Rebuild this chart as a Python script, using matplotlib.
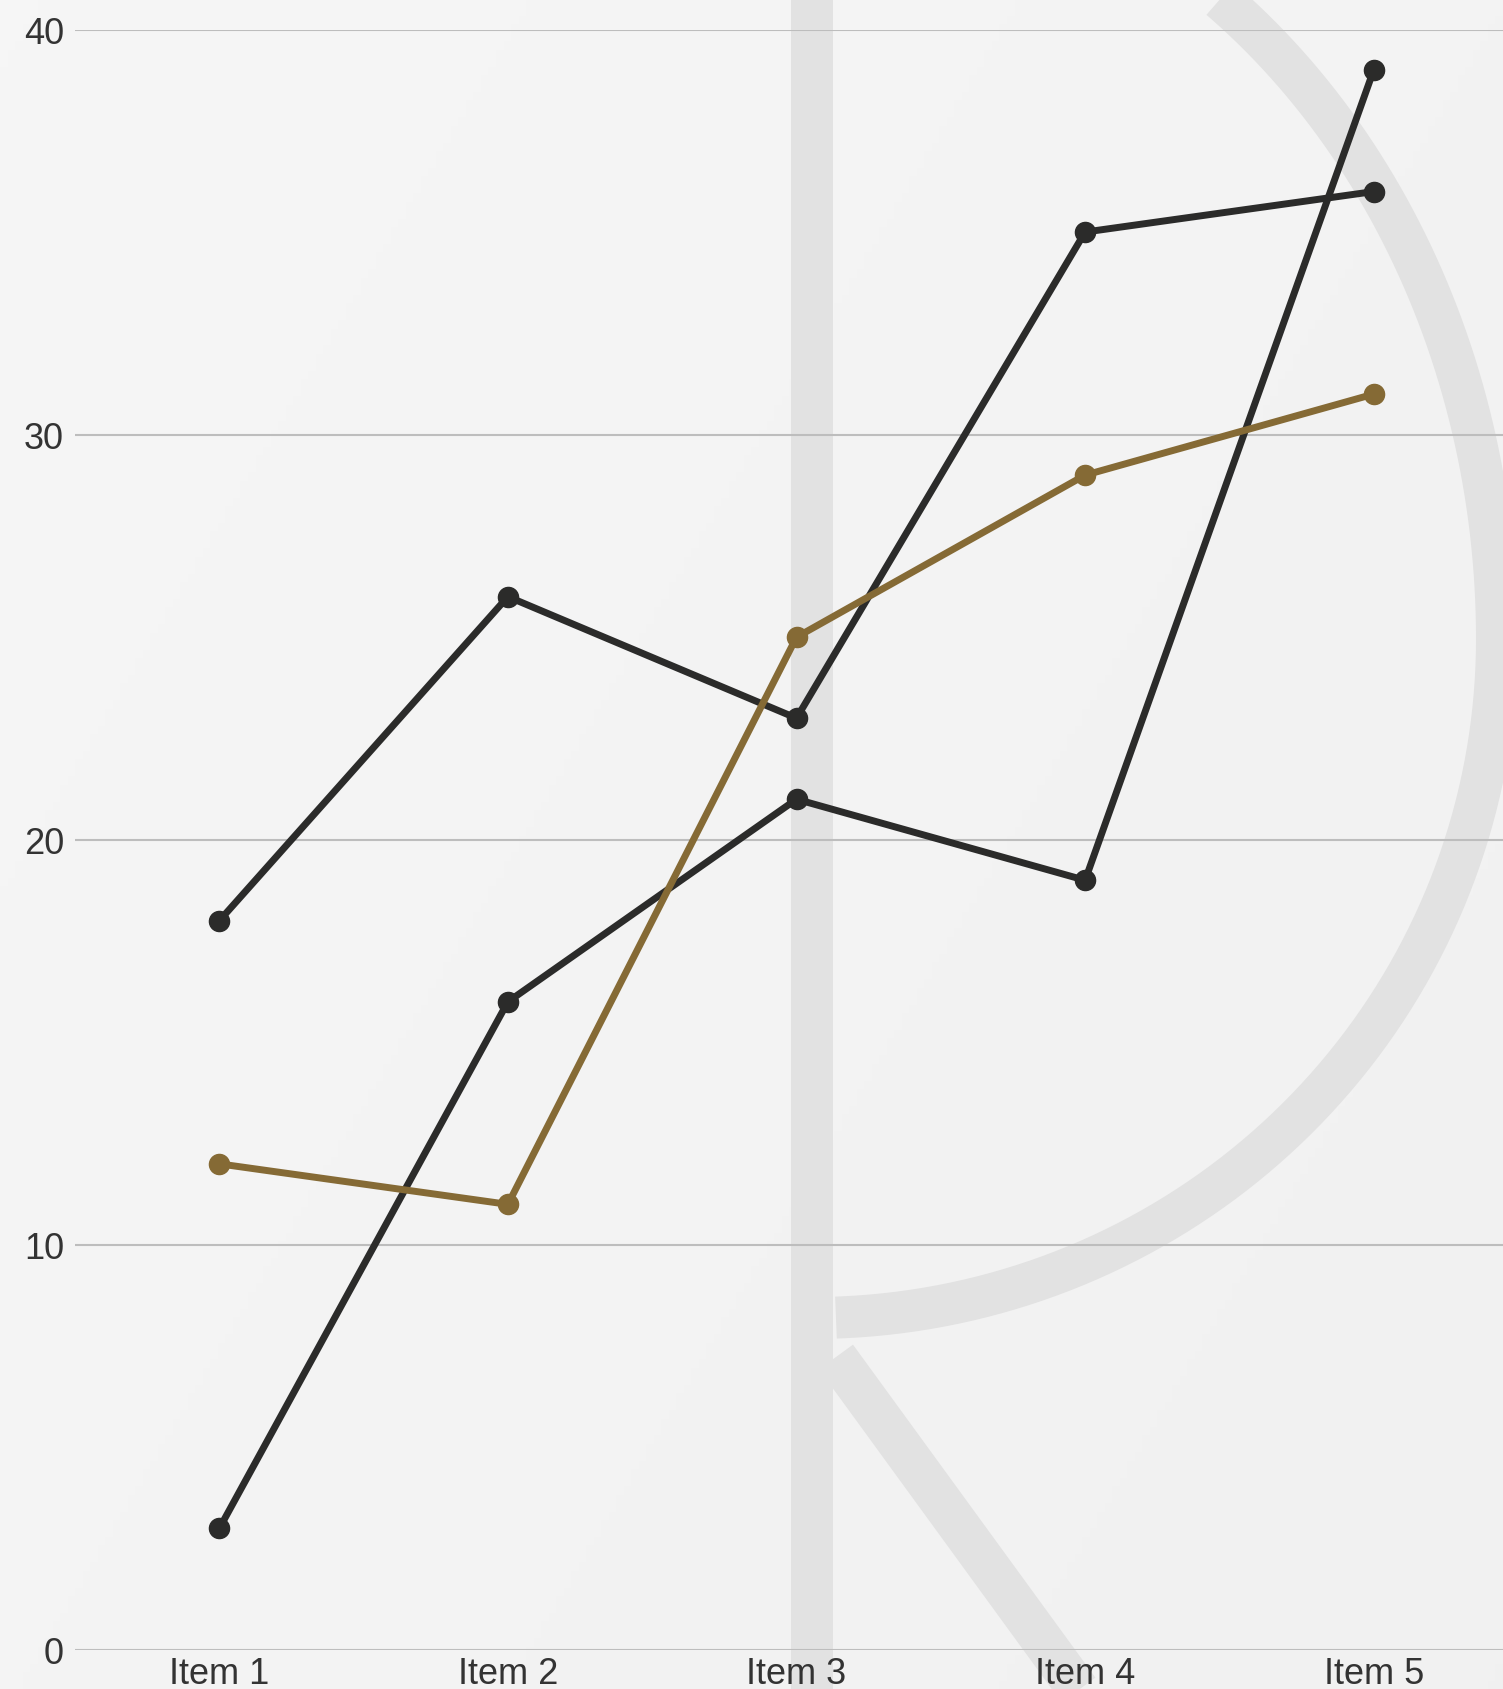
import numpy as np
import matplotlib
matplotlib.use('Agg')
import matplotlib.pyplot as plt

# chart data
categories = ['Item 1', 'Item 2', 'Item 3', 'Item 4', 'Item 5']
series_a = [18, 26, 23, 35, 36]
series_b = [3, 16, 21, 19, 39]
series_c = [12, 11, 25, 29, 31]
y_ticks = [0, 10, 20, 30, 40]

W, H = 1503, 1690
fig = plt.figure(figsize=(W / 100, H / 100), dpi=100)

# background with a soft gradient and the faint "R" watermark
bg = fig.add_axes([0, 0, 1, 1], zorder=0)
bg.set_xlim(0, W)
bg.set_ylim(H, 0)
bg.axis('off')
gx = np.linspace(0, 1, 200)
gy = np.linspace(0, 1, 200)
grad = 0.965 - 0.02 * (0.6 * gx[None, :] + 0.4 * gy[:, None])
bg.imshow(np.dstack([grad] * 3), extent=[0, W, H, 0], aspect='auto')

wm = '#e2e2e2'
wm_lw = 42 * 0.72
bg.plot([812, 812], [0, H], color=wm, lw=wm_lw, solid_capstyle='butt')
# bowl of the R: upper and lower quarter ellipses
cx, cy, rx = 812, 640, 685
t_up = np.linspace(-1.25, 0, 150)
t_lo = np.linspace(0, np.pi / 2 - 0.035, 150)
bowl_x = np.concatenate([cx + rx * np.cos(t_up), cx + rx * np.cos(t_lo)])
bowl_y = np.concatenate([cy + 797 * np.sin(t_up), cy + 679 * np.sin(t_lo)])
bg.plot(bowl_x, bowl_y, color=wm, lw=wm_lw, solid_capstyle='butt')
bg.plot([836, 1085], [1358, 1700], color=wm, lw=wm_lw, solid_capstyle='butt')

ax = fig.add_axes([75 / W, (H - 1651) / H, (1518 - 75) / W, (1651 - 30.5) / H],
                  zorder=1)
ax.patch.set_alpha(0)
x = np.arange(len(categories))

dark = '#2b2b2a'
gold = '#856a35'
for vals, col in [(series_a, dark), (series_b, dark), (series_c, gold)]:
    ax.plot(x, vals, color=col, lw=5.0, marker='o', ms=14.5, clip_on=False,
            zorder=3)

ax.set_xlim(-0.5, 4.5)
ax.set_ylim(0, 40)
ax.set_yticks(y_ticks)
ax.set_xticks(x)
ax.set_xticklabels(categories)
ax.grid(axis='y', color='#bdbdbd', lw=1.5)
ax.set_axisbelow(True)
for s in ax.spines.values():
    s.set_visible(False)
ax.tick_params(axis='both', length=0, labelsize=26, labelcolor='#333333',
               labelfontfamily='Liberation Sans')
ax.tick_params(axis='y', pad=8)
ax.tick_params(axis='x', pad=4)

fig.savefig('out.png', dpi=100)
